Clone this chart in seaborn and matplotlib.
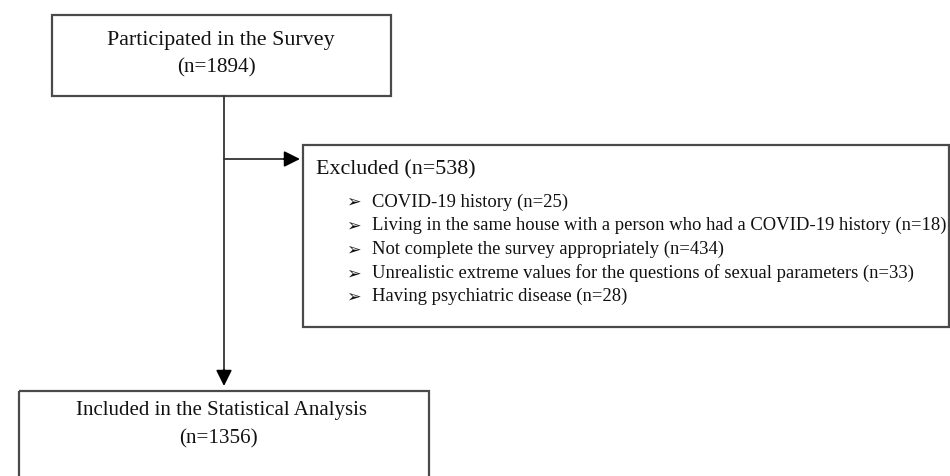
import matplotlib
matplotlib.use("Agg")
import matplotlib.pyplot as plt
from matplotlib.patches import Rectangle
import seaborn as sns

# flow chart data
stages = ["Participated in the Survey", "Included in the Statistical Analysis"]
stage_n = [1894, 1356]
excluded_n = 538
reasons = [
    "COVID-19 history",
    "Living in the same house with a person who had a COVID-19 history",
    "Not complete the survey appropriately",
    "Unrealistic extreme values for the questions of sexual parameters",
    "Having psychiatric disease",
]
reason_n = [25, 18, 434, 33, 28]

sns.set_theme(style="white")
plt.rcParams['font.family'] = ['Liberation Serif', 'DejaVu Sans']

edge = '#4a4a4a'
ink = '#111111'
fig = plt.figure(figsize=(9.5, 4.76), dpi=100)
ax = fig.add_axes([0, 0, 1, 1])
ax.set_xlim(0, 950)
ax.set_ylim(476, 0)
ax.axis('off')

# boxes (x0, y0, x1, y1) in pixel units
top_box = (52, 15, 391, 96)
exc_box = (303, 145, 949, 327)
bot_box = (19, 391, 429, 490)
for b in [top_box, exc_box, bot_box]:
    ax.add_patch(Rectangle((b[0], b[1]), b[2] - b[0], b[3] - b[1],
                           fill=False, edgecolor=edge, lw=1.6, clip_on=True))

# stage texts
ax.text(221, 40, stages[0], ha='center', va='center', fontsize=15.8, color=ink)
ax.text(216, 68, "(n=%d)" % stage_n[0], ha='center', va='center', fontsize=15.2, color=ink)
ax.text(221, 411, stages[1], ha='center', va='center', fontsize=15.0, color=ink)
ax.text(218, 439, "(n=%d)" % stage_n[1], ha='center', va='center', fontsize=15.2, color=ink)

# arrows
x_main = 224
head = '-|>,head_length=0.8,head_width=0.4'
ax.plot([x_main, x_main], [96, 378], color='#333333', lw=1.3)
ax.annotate('', xy=(x_main, 386), xytext=(x_main, 370),
            arrowprops=dict(arrowstyle=head, color='black', lw=1.3,
                            shrinkA=0, shrinkB=0))
ax.plot([x_main, 292], [159, 159], color='#333333', lw=1.3)
ax.annotate('', xy=(300, 159), xytext=(284, 159),
            arrowprops=dict(arrowstyle=head, color='black', lw=1.3,
                            shrinkA=0, shrinkB=0))

# excluded text
ax.text(316, 170, "Excluded (n=%d)" % excluded_n, ha='left', va='center',
        fontsize=15.8, color=ink)
for i, (r, n) in enumerate(zip(reasons, reason_n)):
    y = 202 + i * 23.7
    ax.text(346, y, "\u27a2", ha='left', va='center', fontsize=12.5,
            family=['DejaVu Sans'], color=ink)
    ax.text(372, y, "%s (n=%d)" % (r, n), ha='left', va='center',
            fontsize=13.4, color=ink)

fig.savefig('out.png', dpi=100)
